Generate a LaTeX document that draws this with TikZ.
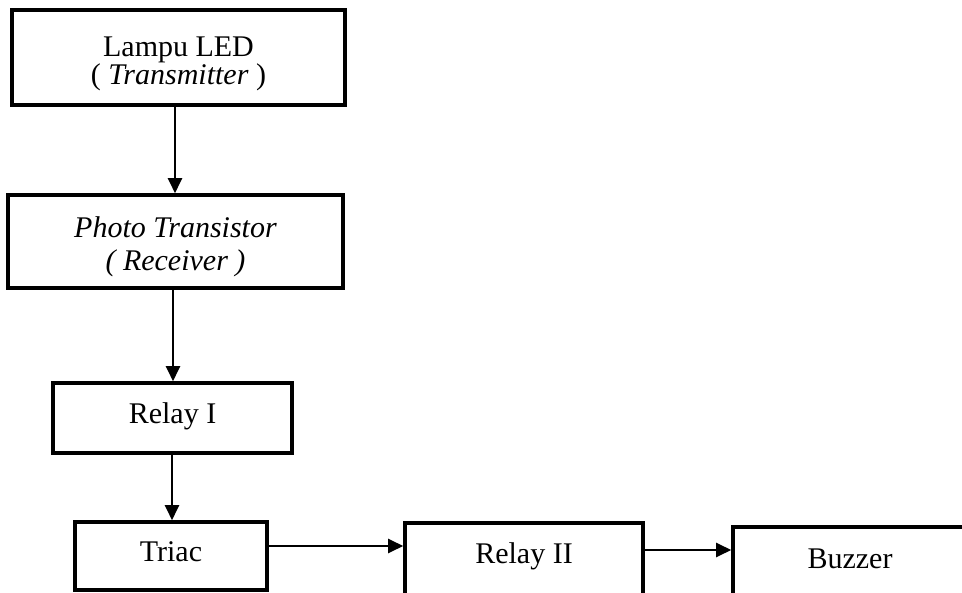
\documentclass[tikz,border=0pt]{standalone}
\usepackage{fontspec}
\setmainfont{Liberation Serif}
\usetikzlibrary{arrows.meta}
\tikzset{
  blk/.style={draw, line width=3.6pt, inner sep=0pt},
  txt/.style={inner sep=0pt, align=center, font=\fontsize{30}{28}\selectfont},
  arr/.style={line width=2.4pt, -{Triangle[length=15pt,width=14pt]}}
}
\begin{document}
\begin{tikzpicture}[x=1pt,y=-1pt]
\useasboundingbox (0,0) rectangle (962,593);
\clip (0,0) rectangle (962,593);
\fill[white] (0,0) rectangle (962,593);
\node[blk, minimum width=333pt, minimum height=95pt] (b1) at (178.5,57.5) {};
\node[blk, minimum width=335pt, minimum height=93pt] (b2) at (175.5,241.5) {};
\node[blk, minimum width=239pt, minimum height=70pt] (b3) at (172.5,418) {};
\node[blk, minimum width=192pt, minimum height=68pt] (b4) at (171,556) {};
\node[blk, minimum width=238pt, minimum height=76pt] (b5) at (524,561) {};
\node[blk, minimum width=234pt, minimum height=76pt] (b6) at (850,565) {};
\node[txt] (t1) at ([yshift=-6pt]b1.center) {Lampu LED\\( \textit{Transmitter} )};
\node[txt, font=\fontsize{30}{33}\selectfont] (t2) at ([yshift=-5pt]b2.center)
  {\textit{Photo Transistor}\\\textit{( Receiver )}};
\node[txt] (t3) at ([yshift=2pt]b3.center) {Relay I};
\node[txt] (t4) at ([yshift=4pt]b4.center) {Triac};
\node[txt] (t5) at ([yshift=5pt]b5.center) {Relay II};
\node[txt] (t6) at ([yshift=6pt]b6.center) {Buzzer};
\draw[arr] ([xshift=-3.5pt]b1.south) -- ([xshift=-0.5pt]b2.north);
\draw[arr] ([xshift=-2.5pt]b2.south) -- ([xshift=0.5pt]b3.north);
\draw[arr] ([xshift=-0.5pt]b3.south) -- ([xshift=1pt]b4.north);
\draw[arr] ([yshift=10pt]b4.east) -- ([yshift=15pt]b5.west);
\draw[arr] ([yshift=11pt]b5.east) -- ([yshift=15pt]b6.west);
\end{tikzpicture}
\end{document}
